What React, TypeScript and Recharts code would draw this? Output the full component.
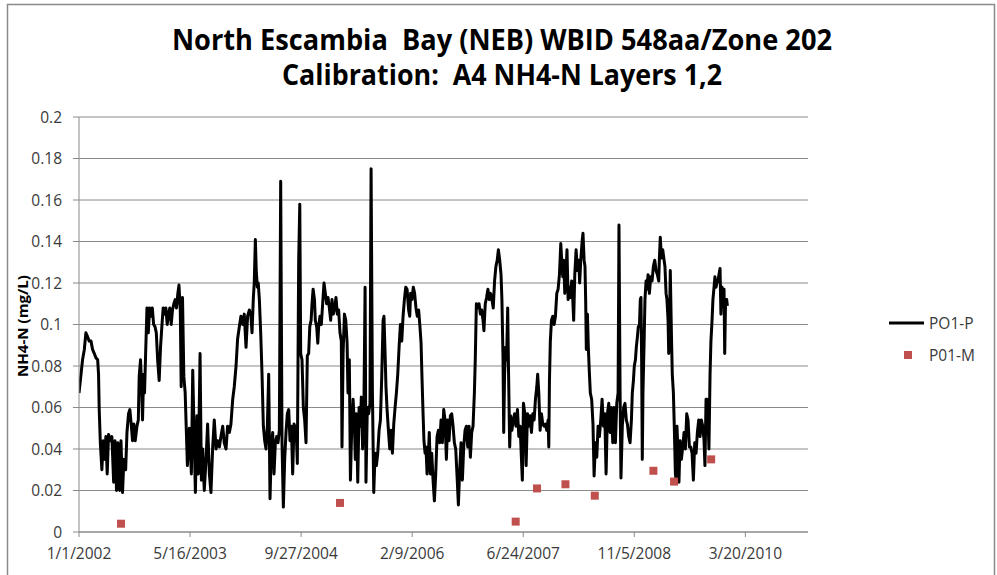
import React from 'react';
import { ComposedChart, Line, Scatter, XAxis, YAxis, CartesianGrid } from 'recharts';

// x values are days since 1/1/2002
const dateTicks = [0, 500, 1000, 1500, 2000, 2500, 3000];
const dateLabels = ['1/1/2002', '5/16/2003', '9/27/2004', '2/9/2006', '6/24/2007', '11/5/2008', '3/20/2010'];
const nh4Ticks = [0, 0.02, 0.04, 0.06, 0.08, 0.1, 0.12, 0.14, 0.16, 0.18, 0.2];

// PO1-P model output, [day, NH4-N mg/L]
const model2002: [number, number][] = [
  [0, 0.067], [9, 0.076], [16, 0.083], [24, 0.088], [31, 0.096], [39, 0.094], [46, 0.092], [54, 0.092],
  [61, 0.088], [69, 0.086], [76, 0.084], [84, 0.083], [88, 0.076], [91, 0.059], [96, 0.043], [103, 0.03],
  [109, 0.044], [115, 0.035], [121, 0.046], [127, 0.028], [133, 0.047], [141, 0.044], [148, 0.046], [156, 0.024],
  [162, 0.044], [169, 0.02], [175, 0.043], [183, 0.02], [189, 0.044], [196, 0.019], [202, 0.035], [210, 0.03],
  [216, 0.048], [223, 0.057], [229, 0.059], [235, 0.052], [241, 0.044], [247, 0.052], [253, 0.044], [261, 0.051],
  [267, 0.054], [271, 0.075], [277, 0.083], [282, 0.07], [286, 0.054], [291, 0.076], [295, 0.067], [300, 0.086],
  [306, 0.108], [312, 0.096], [318, 0.108], [324, 0.104], [330, 0.108], [336, 0.1], [342, 0.099], [348, 0.096],
  [354, 0.083], [361, 0.073], [367, 0.089], [373, 0.099], [379, 0.108], [385, 0.105], [391, 0.108], [397, 0.1],
  [403, 0.105], [409, 0.108], [415, 0.1], [421, 0.107], [427, 0.11], [433, 0.112], [439, 0.108], [445, 0.115],
  [450, 0.119], [456, 0.107], [460, 0.07], [466, 0.113], [472, 0.075], [478, 0.067],
];
const model2003: [number, number][] = [
  [488, 0.032], [497, 0.05], [506, 0.028], [512, 0.078], [524, 0.019], [531, 0.056], [537, 0.028], [545, 0.086],
  [551, 0.025], [557, 0.04], [564, 0.02], [572, 0.035], [579, 0.052], [587, 0.028], [594, 0.019], [602, 0.041],
  [609, 0.054], [617, 0.04], [624, 0.044], [632, 0.041], [639, 0.046], [647, 0.051], [654, 0.043], [662, 0.04],
  [669, 0.051], [677, 0.048], [684, 0.052], [692, 0.064], [699, 0.07], [707, 0.08], [714, 0.093], [722, 0.099],
  [729, 0.104], [737, 0.1], [744, 0.105], [752, 0.089], [759, 0.104], [767, 0.107], [774, 0.104], [779, 0.096],
  [785, 0.113], [789, 0.12], [794, 0.141], [798, 0.126], [803, 0.118], [807, 0.12], [812, 0.112], [818, 0.096],
  [824, 0.076], [830, 0.051], [836, 0.044], [842, 0.04], [848, 0.051], [854, 0.076], [860, 0.016], [866, 0.041],
  [872, 0.048], [878, 0.028], [884, 0.043], [890, 0.046], [896, 0.043], [902, 0.049], [908, 0.169], [914, 0.043],
  [920, 0.012], [926, 0.035], [932, 0.048], [938, 0.057], [944, 0.059], [950, 0.044], [956, 0.051], [962, 0.028],
  [968, 0.052], [974, 0.048],
];
const model2004: [number, number][] = [
  [977, 0.051], [983, 0.033], [989, 0.131], [994, 0.158], [998, 0.086], [1004, 0.083], [1010, 0.06], [1016, 0.054],
  [1022, 0.043], [1028, 0.085], [1034, 0.086], [1039, 0.099], [1045, 0.102], [1049, 0.11], [1054, 0.117], [1060, 0.112],
  [1064, 0.102], [1070, 0.099], [1075, 0.091], [1079, 0.099], [1085, 0.104], [1091, 0.1], [1097, 0.11], [1103, 0.12],
  [1109, 0.115], [1115, 0.11], [1121, 0.113], [1127, 0.108], [1133, 0.102], [1139, 0.112], [1145, 0.105], [1151, 0.108],
  [1157, 0.113], [1163, 0.105], [1169, 0.107], [1175, 0.096], [1181, 0.092], [1184, 0.041], [1189, 0.086], [1195, 0.105],
  [1201, 0.102], [1207, 0.091], [1211, 0.067], [1217, 0.083], [1222, 0.025], [1228, 0.051], [1234, 0.064], [1240, 0.051],
  [1244, 0.035], [1249, 0.057], [1255, 0.024], [1261, 0.06], [1267, 0.051], [1271, 0.065], [1277, 0.04], [1283, 0.064],
  [1288, 0.118], [1292, 0.024], [1298, 0.06], [1304, 0.057], [1310, 0.062], [1315, 0.175], [1321, 0.067], [1327, 0.019],
  [1333, 0.038], [1339, 0.032], [1345, 0.038], [1351, 0.049], [1357, 0.054], [1363, 0.075], [1369, 0.102], [1373, 0.104],
  [1378, 0.086], [1382, 0.07], [1387, 0.059], [1393, 0.049], [1399, 0.04], [1405, 0.049], [1411, 0.038], [1417, 0.052],
  [1423, 0.06], [1429, 0.067], [1435, 0.076], [1441, 0.089], [1447, 0.1], [1453, 0.092], [1459, 0.104], [1465, 0.112],
  [1471, 0.118], [1477, 0.117],
];
const model2006: [number, number][] = [
  [1484, 0.107], [1489, 0.104], [1493, 0.115], [1499, 0.112], [1505, 0.118], [1511, 0.115], [1517, 0.108], [1523, 0.104],
  [1529, 0.107], [1535, 0.099], [1540, 0.091], [1544, 0.075], [1549, 0.057], [1553, 0.044], [1558, 0.038], [1562, 0.041],
  [1567, 0.028], [1573, 0.038], [1577, 0.048], [1582, 0.028], [1588, 0.038], [1594, 0.025], [1600, 0.015], [1606, 0.028],
  [1612, 0.046], [1618, 0.049], [1624, 0.043], [1630, 0.054], [1636, 0.043], [1642, 0.059], [1648, 0.054], [1654, 0.035],
  [1660, 0.054], [1666, 0.044], [1672, 0.056], [1678, 0.057], [1684, 0.051], [1690, 0.043], [1696, 0.04], [1702, 0.027],
  [1708, 0.013], [1714, 0.03], [1720, 0.043], [1726, 0.025], [1732, 0.041], [1738, 0.049], [1744, 0.051], [1750, 0.041],
  [1756, 0.051], [1762, 0.036], [1768, 0.048], [1774, 0.051], [1780, 0.067], [1784, 0.083], [1789, 0.11], [1795, 0.108],
  [1801, 0.11], [1807, 0.105], [1813, 0.107], [1819, 0.102], [1823, 0.097], [1829, 0.11], [1835, 0.113], [1841, 0.117],
  [1847, 0.112], [1853, 0.115], [1859, 0.112], [1865, 0.108], [1871, 0.121], [1877, 0.128], [1883, 0.131], [1888, 0.136],
  [1894, 0.131], [1900, 0.124], [1904, 0.112], [1909, 0.083], [1912, 0.048], [1916, 0.076], [1921, 0.089], [1925, 0.083],
  [1930, 0.108], [1934, 0.076], [1939, 0.041], [1943, 0.056], [1949, 0.049], [1955, 0.054], [1961, 0.057], [1967, 0.051],
];
const model2007: [number, number][] = [
  [1974, 0.059], [1980, 0.046], [1986, 0.051], [1992, 0.035], [1996, 0.025], [2001, 0.062], [2007, 0.057], [2013, 0.032],
  [2019, 0.057], [2025, 0.051], [2031, 0.056], [2037, 0.048], [2043, 0.057], [2049, 0.054], [2055, 0.064], [2061, 0.07],
  [2065, 0.076], [2070, 0.067], [2076, 0.049], [2082, 0.057], [2088, 0.052], [2094, 0.051], [2100, 0.052], [2106, 0.049],
  [2112, 0.054], [2115, 0.041], [2118, 0.073], [2122, 0.092], [2127, 0.102], [2133, 0.104], [2139, 0.1], [2145, 0.104],
  [2151, 0.115], [2157, 0.117], [2163, 0.124], [2169, 0.139], [2173, 0.131], [2178, 0.123], [2182, 0.131], [2187, 0.115],
  [2193, 0.126], [2197, 0.136], [2202, 0.112], [2208, 0.118], [2212, 0.113], [2218, 0.121], [2223, 0.112], [2227, 0.102],
  [2232, 0.124], [2238, 0.136], [2244, 0.126], [2250, 0.131], [2254, 0.12], [2259, 0.131], [2265, 0.14], [2269, 0.144],
  [2274, 0.131], [2278, 0.128], [2281, 0.112], [2284, 0.088], [2289, 0.105], [2293, 0.089], [2298, 0.076], [2302, 0.067],
  [2308, 0.064], [2314, 0.052], [2319, 0.027], [2325, 0.043], [2331, 0.036], [2337, 0.051], [2343, 0.046], [2349, 0.054],
  [2355, 0.064], [2361, 0.051], [2367, 0.057], [2373, 0.028], [2379, 0.057], [2385, 0.062], [2391, 0.048], [2397, 0.06],
  [2403, 0.043], [2409, 0.06], [2415, 0.043], [2421, 0.062], [2427, 0.067], [2431, 0.148], [2436, 0.067], [2440, 0.026],
  [2446, 0.051], [2452, 0.06], [2458, 0.062], [2464, 0.054],
];
const model2008: [number, number][] = [
  [2469, 0.052], [2475, 0.046], [2481, 0.043], [2487, 0.054], [2491, 0.067], [2496, 0.073], [2500, 0.08], [2505, 0.083],
  [2509, 0.089], [2514, 0.094], [2518, 0.099], [2523, 0.099], [2527, 0.112], [2530, 0.113], [2533, 0.083], [2536, 0.035],
  [2539, 0.067], [2544, 0.091], [2548, 0.112], [2553, 0.121], [2557, 0.117], [2562, 0.124], [2568, 0.115], [2574, 0.123],
  [2580, 0.121], [2586, 0.128], [2592, 0.131], [2598, 0.126], [2604, 0.124], [2610, 0.121], [2613, 0.132], [2617, 0.142],
  [2622, 0.132], [2628, 0.136], [2634, 0.131], [2638, 0.128], [2643, 0.115], [2647, 0.112], [2652, 0.102], [2655, 0.086],
  [2659, 0.104], [2662, 0.126], [2667, 0.096], [2671, 0.076], [2676, 0.067], [2680, 0.051], [2685, 0.028], [2688, 0.025],
  [2692, 0.051], [2697, 0.038], [2701, 0.024], [2706, 0.044], [2712, 0.035], [2718, 0.041], [2724, 0.048], [2730, 0.04],
  [2736, 0.057], [2742, 0.054], [2748, 0.041], [2754, 0.041], [2760, 0.038], [2766, 0.025], [2772, 0.043], [2778, 0.038],
  [2784, 0.048], [2790, 0.054], [2796, 0.046], [2802, 0.054], [2808, 0.051], [2814, 0.044], [2818, 0.032], [2823, 0.064],
  [2827, 0.064], [2832, 0.054], [2836, 0.04], [2841, 0.076], [2845, 0.092], [2850, 0.102], [2854, 0.112], [2859, 0.118],
  [2863, 0.123], [2868, 0.118], [2872, 0.12], [2877, 0.121], [2881, 0.124], [2886, 0.127], [2890, 0.105], [2895, 0.118],
  [2899, 0.115], [2904, 0.117], [2907, 0.086], [2911, 0.112], [2916, 0.112], [2919, 0.109],
];

// P01-M measured samples
const measuredDays = [189, 1175, 1966, 2062, 2190, 2322, 2586, 2679, 2846];
const measuredNH4 = [0.004, 0.014, 0.005, 0.021, 0.023, 0.0175, 0.0295, 0.0243, 0.035];

const modelData = [...model2002, ...model2003, ...model2004, ...model2006, ...model2007, ...model2008].map(
  ([day, nh4]) => ({ day, nh4 })
);
const measuredData = measuredDays.map((day, i) => ({ day, nh4: measuredNH4[i] }));

const tickFont = { fontFamily: 'Open Sans', fontSize: 15.5, fill: '#3a3a3a' };
const gray = '#8a8a8a';

export default function App() {
  return (
    <div style={{ position: 'absolute', left: 0, top: 0, width: 997, height: 575, background: '#fff', overflow: 'hidden' }}>
      <ComposedChart width={997} height={575} margin={{ top: 117, right: 189, bottom: 0, left: 0 }}>
        <CartesianGrid vertical={false} stroke={gray} strokeWidth={1} />
        <XAxis
          type="number"
          dataKey="day"
          domain={[0, 3282]}
          ticks={dateTicks}
          tickFormatter={(v: number) => dateLabels[dateTicks.indexOf(v)]}
          height={43}
          tickSize={5}
          tickMargin={11}
          stroke={gray}
          tick={tickFont}
          allowDataOverflow
        />
        <YAxis
          type="number"
          dataKey="nh4"
          domain={[0, 0.2]}
          ticks={nh4Ticks}
          tickFormatter={(v: number) => String(Number(v.toFixed(2)))}
          width={79}
          tickSize={6}
          tickMargin={11}
          stroke={gray}
          tick={tickFont}
        />
        <Line
          data={modelData}
          dataKey="nh4"
          type="linear"
          stroke="#000"
          strokeWidth={3}
          strokeLinejoin="round"
          dot={false}
          isAnimationActive={false}
          name="PO1-P"
        />
        <Scatter
          data={measuredData}
          dataKey="nh4"
          fill="#c0504d"
          shape="square"
          legendType="square"
          isAnimationActive={false}
          name="P01-M"
        />
      </ComposedChart>
      <svg width={997} height={575} style={{ position: 'absolute', left: 0, top: 0, pointerEvents: 'none' }}>
        <rect x={7.5} y={4.5} width={987} height={620} fill="none" stroke={gray} strokeWidth={1.5} />
        <text x={502} y={50} textAnchor="middle" fontFamily="Open Sans" fontWeight="bold" fontSize={28}
          textLength={660} lengthAdjust="spacingAndGlyphs" style={{ whiteSpace: 'pre' }} fill="#000">
          North Escambia  Bay (NEB) WBID 548aa/Zone 202
        </text>
        <text x={502} y={85} textAnchor="middle" fontFamily="Open Sans" fontWeight="bold" fontSize={28}
          textLength={440} lengthAdjust="spacingAndGlyphs" style={{ whiteSpace: 'pre' }} fill="#000">
          Calibration:  A4 NH4-N Layers 1,2
        </text>
        <text transform="translate(28,326) rotate(-90)" textAnchor="middle" fontFamily="Open Sans" fontWeight="bold"
          fontSize={13.5} textLength={102} lengthAdjust="spacingAndGlyphs" fill="#000">
          NH4-N (mg/L)
        </text>
        <line x1={889} y1={323} x2={924} y2={323} stroke="#000" strokeWidth={3} />
        <text x={929} y={329} fontFamily="Open Sans" fontSize={15.5} fill="#3a3a3a">PO1-P</text>
        <rect x={904} y={351} width={8} height={8} fill="#c0504d" />
        <text x={929} y={361} fontFamily="Open Sans" fontSize={15.5} fill="#3a3a3a">P01-M</text>
      </svg>
    </div>
  );
}
